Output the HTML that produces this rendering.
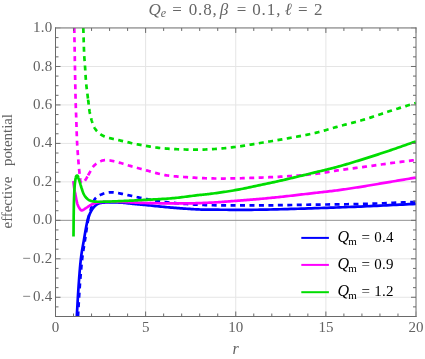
<!DOCTYPE html>
<html><head><meta charset="utf-8"><title>effective potential</title>
<style>html,body{margin:0;padding:0;background:#fff;}body{width:425px;height:359px;overflow:hidden;}svg{display:block;}text{font-family:"Liberation Serif",serif;}svg{will-change:transform;}text{filter:opacity(1);}</style></head><body>
<svg width="425" height="359" viewBox="0 0 425 359">
<rect x="0" y="0" width="425" height="359" fill="#ffffff"/>
<defs><clipPath id="pc"><rect x="55.50" y="28.00" width="360.50" height="288.50"/></clipPath></defs>
<g stroke="#e5e5e5" stroke-width="1" fill="none">
<line x1="145.62" y1="28.00" x2="145.62" y2="316.50"/>
<line x1="235.75" y1="28.00" x2="235.75" y2="316.50"/>
<line x1="325.88" y1="28.00" x2="325.88" y2="316.50"/>
<line x1="55.50" y1="66.47" x2="416.00" y2="66.47"/>
<line x1="55.50" y1="104.93" x2="416.00" y2="104.93"/>
<line x1="55.50" y1="143.40" x2="416.00" y2="143.40"/>
<line x1="55.50" y1="181.87" x2="416.00" y2="181.87"/>
<line x1="55.50" y1="258.80" x2="416.00" y2="258.80"/>
<line x1="55.50" y1="297.27" x2="416.00" y2="297.27"/>
</g>
<line x1="55.50" y1="220.33" x2="416.00" y2="220.33" stroke="#929292" stroke-width="1"/>
<g clip-path="url(#pc)" fill="none" stroke-width="2.70" stroke-linejoin="round">
<path d="M76.40 325.00 L76.42 324.46 L76.45 323.92 L76.47 323.39 L76.50 322.85 L76.52 322.31 L76.54 321.77 L76.57 321.24 L76.59 320.70 L76.61 320.16 L76.64 319.62 L76.66 319.09 L76.69 318.55 L76.71 318.01 L76.74 317.47 L76.77 316.94 L76.80 316.40 L76.91 314.41 L77.02 312.42 L77.13 310.44 L77.24 308.45 L77.36 306.46 L77.47 304.47 L77.58 302.48 L77.69 300.50 L77.81 298.51 L77.92 296.52 L78.04 294.53 L78.17 292.55 L78.29 290.56 L78.43 288.57 L78.56 286.59 L78.70 284.60 L78.82 282.92 L78.94 281.25 L79.06 279.57 L79.18 277.89 L79.31 276.22 L79.44 274.54 L79.57 272.86 L79.70 271.19 L79.84 269.51 L79.98 267.84 L80.14 266.16 L80.29 264.49 L80.46 262.81 L80.63 261.14 L80.81 259.47 L81.00 257.80 L81.14 256.68 L81.28 255.56 L81.44 254.45 L81.60 253.33 L81.77 252.22 L81.95 251.11 L82.13 249.99 L82.32 248.88 L82.52 247.77 L82.71 246.66 L82.91 245.55 L83.11 244.44 L83.31 243.33 L83.51 242.22 L83.70 241.11 L83.90 240.00 L84.12 238.75 L84.33 237.49 L84.54 236.24 L84.75 234.99 L84.96 233.73 L85.18 232.48 L85.39 231.22 L85.61 229.97 L85.83 228.72 L86.06 227.47 L86.29 226.22 L86.54 224.97 L86.79 223.73 L87.05 222.48 L87.32 221.24 L87.60 220.00 L87.71 219.55 L87.83 219.10 L87.96 218.65 L88.09 218.20 L88.24 217.76 L88.39 217.31 L88.55 216.87 L88.71 216.43 L88.88 216.00 L89.06 215.56 L89.24 215.13 L89.42 214.70 L89.61 214.27 L89.80 213.85 L90.00 213.42 L90.20 213.00 L90.37 212.64 L90.55 212.29 L90.73 211.93 L90.91 211.58 L91.09 211.23 L91.29 210.88 L91.48 210.54 L91.68 210.19 L91.89 209.85 L92.10 209.52 L92.32 209.19 L92.54 208.86 L92.77 208.54 L93.01 208.22 L93.25 207.91 L93.50 207.60 L93.72 207.34 L93.95 207.07 L94.18 206.81 L94.42 206.56 L94.67 206.30 L94.91 206.06 L95.17 205.82 L95.43 205.58 L95.69 205.35 L95.96 205.13 L96.23 204.92 L96.52 204.71 L96.80 204.52 L97.10 204.34 L97.39 204.16 L97.70 204.00 L98.03 203.84 L98.37 203.69 L98.71 203.55 L99.05 203.43 L99.40 203.31 L99.76 203.20 L100.11 203.10 L100.47 203.02 L100.83 202.94 L101.20 202.86 L101.56 202.80 L101.93 202.75 L102.30 202.70 L102.67 202.66 L103.03 202.63 L103.40 202.60 L104.44 202.54 L105.47 202.49 L106.51 202.45 L107.55 202.42 L108.58 202.40 L109.62 202.38 L110.66 202.38 L111.70 202.38 L112.74 202.38 L113.77 202.40 L114.81 202.42 L115.85 202.45 L116.89 202.48 L117.93 202.51 L118.96 202.56 L120.00 202.60 L120.90 202.65 L121.81 202.70 L122.71 202.77 L123.61 202.85 L124.51 202.93 L125.41 203.02 L126.31 203.11 L127.21 203.21 L128.11 203.31 L129.00 203.41 L129.90 203.51 L130.80 203.62 L131.70 203.72 L132.60 203.82 L133.50 203.91 L134.40 204.00 L135.06 204.06 L135.72 204.13 L136.39 204.19 L137.05 204.25 L137.71 204.31 L138.37 204.38 L139.04 204.44 L139.70 204.50 L140.36 204.56 L141.03 204.62 L141.69 204.69 L142.35 204.75 L143.01 204.81 L143.68 204.87 L144.34 204.94 L145.00 205.00 L146.73 205.17 L148.46 205.34 L150.19 205.51 L151.92 205.69 L153.65 205.87 L155.38 206.04 L157.12 206.22 L158.85 206.40 L160.58 206.57 L162.31 206.74 L164.04 206.91 L165.77 207.08 L167.50 207.24 L169.23 207.40 L170.97 207.55 L172.70 207.70 L174.26 207.83 L175.82 207.96 L177.38 208.08 L178.94 208.20 L180.51 208.32 L182.07 208.44 L183.63 208.55 L185.19 208.66 L186.76 208.77 L188.32 208.87 L189.88 208.97 L191.44 209.07 L193.01 209.16 L194.57 209.24 L196.14 209.32 L197.70 209.40 L198.80 209.45 L199.90 209.49 L201.00 209.53 L202.10 209.56 L203.20 209.59 L204.30 209.61 L205.40 209.63 L206.50 209.64 L207.60 209.66 L208.70 209.67 L209.80 209.67 L210.90 209.68 L212.00 209.69 L213.10 209.69 L214.20 209.69 L215.30 209.70 L218.09 209.71 L220.89 209.73 L223.68 209.75 L226.48 209.76 L229.27 209.78 L232.06 209.79 L234.86 209.80 L237.65 209.81 L240.44 209.82 L243.24 209.82 L246.03 209.81 L248.83 209.80 L251.62 209.79 L254.41 209.77 L257.21 209.74 L260.00 209.70 L263.44 209.64 L266.88 209.58 L270.31 209.51 L273.75 209.43 L277.19 209.35 L280.63 209.26 L284.07 209.16 L287.50 209.06 L290.94 208.96 L294.38 208.86 L297.81 208.75 L301.25 208.64 L304.69 208.53 L308.13 208.42 L311.56 208.31 L315.00 208.20 L318.06 208.10 L321.13 208.00 L324.19 207.90 L327.25 207.80 L330.31 207.69 L333.38 207.59 L336.44 207.48 L339.50 207.37 L342.56 207.25 L345.63 207.14 L348.69 207.02 L351.75 206.90 L354.81 206.78 L357.88 206.66 L360.94 206.53 L364.00 206.40 L367.24 206.26 L370.48 206.12 L373.71 205.97 L376.95 205.82 L380.19 205.66 L383.43 205.50 L386.66 205.35 L389.90 205.19 L393.14 205.02 L396.38 204.86 L399.61 204.70 L402.85 204.54 L406.09 204.38 L409.33 204.22 L412.56 204.06 L415.80 203.90" stroke="#0000ff"/>
<path d="M77.99 316.50 L78.00 316.40 L78.11 314.41 L78.22 312.42 L78.33 310.44 L78.44 308.45 L78.55 306.46 L78.66 304.47 L78.77 302.48 L78.88 300.50 L79.00 298.51 L79.12 296.52 L79.24 294.53 L79.36 292.55 L79.49 290.56 L79.62 288.57 L79.76 286.59 L79.90 284.60 L80.02 282.92 L80.15 281.25 L80.28 279.57 L80.41 277.89 L80.54 276.22 L80.68 274.54 L80.82 272.86 L80.96 271.19 L81.11 269.51 L81.27 267.84 L81.42 266.16 L81.59 264.49 L81.76 262.82 L81.93 261.14 L82.11 259.47 L82.30 257.80 L82.43 256.68 L82.57 255.57 L82.72 254.45 L82.88 253.34 L83.05 252.22 L83.21 251.11 L83.39 250.00 L83.56 248.89 L83.74 247.78 L83.93 246.67 L84.11 245.56 L84.29 244.45 L84.47 243.33 L84.65 242.22 L84.83 241.11 L85.00 240.00 L85.19 238.75 L85.38 237.50 L85.56 236.25 L85.74 234.99 L85.92 233.74 L86.10 232.49 L86.29 231.24 L86.47 229.99 L86.66 228.73 L86.84 227.48 L87.04 226.23 L87.24 224.99 L87.44 223.74 L87.65 222.49 L87.87 221.24 L88.10 220.00" stroke="#0000ff" stroke-dasharray="5.000 4.400" stroke-dashoffset="0.00"/>
<path d="M88.10 220.00 L88.10 220.00 L88.22 219.37 L88.35 218.73 L88.47 218.10 L88.61 217.47 L88.75 216.84 L88.89 216.21 L89.04 215.59 L89.19 214.96 L89.35 214.33 L89.51 213.71 L89.68 213.09 L89.85 212.47 L90.03 211.85 L90.21 211.23 L90.40 210.61 L90.60 210.00 L90.82 209.29 L91.04 208.58 L91.25 207.87 L91.46 207.15 L91.67 206.43 L91.89 205.72 L92.11 205.00 L92.34 204.29 L92.59 203.59 L92.85 202.90 L93.13 202.21 L93.43 201.54 L93.75 200.88 L94.10 200.24 L94.49 199.61 L94.90 199.00 L95.23 198.58 L95.58 198.17 L95.95 197.79 L96.34 197.43 L96.76 197.08 L97.18 196.75 L97.63 196.44 L98.09 196.14 L98.56 195.86 L99.03 195.59 L99.52 195.33 L100.01 195.08 L100.51 194.85 L101.01 194.62 L101.50 194.41 L102.00 194.20 L102.54 193.98 L103.09 193.78 L103.64 193.59 L104.19 193.41 L104.76 193.25 L105.32 193.09 L105.89 192.96 L106.46 192.83 L107.04 192.72 L107.61 192.62 L108.19 192.53 L108.77 192.46 L109.36 192.40 L109.94 192.35 L110.52 192.32 L111.10 192.30 L111.77 192.30 L112.44 192.32 L113.10 192.36 L113.77 192.42 L114.43 192.49 L115.10 192.58 L115.76 192.68 L116.42 192.79 L117.08 192.91 L117.74 193.04 L118.40 193.16 L119.06 193.30 L119.72 193.43 L120.38 193.56 L121.04 193.68 L121.70 193.80 L122.32 193.91 L122.94 194.03 L123.56 194.15 L124.18 194.27 L124.80 194.40 L125.42 194.53 L126.04 194.67 L126.66 194.80 L127.28 194.94 L127.89 195.08 L128.51 195.22 L129.13 195.36 L129.75 195.49 L130.36 195.63 L130.98 195.77 L131.60 195.90 L132.44 196.08 L133.27 196.26 L134.11 196.45 L134.95 196.64 L135.78 196.82 L136.62 197.01 L137.46 197.20 L138.29 197.38 L139.13 197.57 L139.97 197.75 L140.80 197.94 L141.64 198.12 L142.48 198.29 L143.32 198.47 L144.16 198.63 L145.00 198.80 L145.93 198.98 L146.87 199.16 L147.80 199.34 L148.74 199.52 L149.67 199.70 L150.61 199.88 L151.54 200.05 L152.48 200.22 L153.42 200.39 L154.36 200.55 L155.29 200.71 L156.23 200.86 L157.17 201.00 L158.11 201.14 L159.06 201.28 L160.00 201.40 L161.56 201.60 L163.12 201.79 L164.68 201.97 L166.24 202.15 L167.80 202.32 L169.36 202.49 L170.92 202.65 L172.48 202.81 L174.05 202.96 L175.61 203.11 L177.17 203.25 L178.74 203.39 L180.30 203.52 L181.87 203.65 L183.43 203.78 L185.00 203.90 L186.56 204.02 L188.12 204.13 L189.68 204.24 L191.24 204.35 L192.80 204.45 L194.37 204.55 L195.93 204.64 L197.49 204.72 L199.05 204.81 L200.62 204.88 L202.18 204.95 L203.74 205.02 L205.31 205.07 L206.87 205.12 L208.44 205.16 L210.00 205.20 L213.12 205.26 L216.25 205.31 L219.37 205.35 L222.50 205.38 L225.62 205.41 L228.75 205.43 L231.87 205.45 L235.00 205.46 L238.12 205.46 L241.25 205.46 L244.37 205.46 L247.50 205.45 L250.62 205.44 L253.75 205.43 L256.87 205.42 L260.00 205.40 L263.13 205.38 L266.25 205.36 L269.38 205.33 L272.50 205.29 L275.63 205.25 L278.75 205.21 L281.88 205.16 L285.00 205.11 L288.13 205.06 L291.25 205.01 L294.38 204.95 L297.50 204.90 L300.63 204.85 L303.75 204.80 L306.88 204.75 L310.00 204.70 L313.38 204.65 L316.75 204.61 L320.13 204.57 L323.50 204.53 L326.88 204.50 L330.25 204.46 L333.63 204.42 L337.00 204.38 L340.38 204.34 L343.75 204.29 L347.13 204.24 L350.50 204.19 L353.88 204.13 L357.25 204.06 L360.63 203.98 L364.00 203.90 L367.24 203.81 L370.48 203.71 L373.72 203.60 L376.95 203.49 L380.19 203.37 L383.43 203.24 L386.67 203.11 L389.90 202.98 L393.14 202.84 L396.38 202.71 L399.61 202.57 L402.85 202.43 L406.09 202.29 L409.33 202.16 L412.56 202.03 L415.80 201.90" stroke="#0000ff" stroke-dasharray="5.000 4.455" stroke-dashoffset="0.00"/>
<path d="M73.30 181.00 L73.36 181.44 L73.41 181.88 L73.46 182.31 L73.52 182.75 L73.57 183.19 L73.62 183.63 L73.67 184.07 L73.73 184.50 L73.78 184.94 L73.83 185.38 L73.89 185.82 L73.95 186.25 L74.01 186.69 L74.07 187.13 L74.13 187.56 L74.20 188.00 L74.27 188.44 L74.34 188.88 L74.42 189.32 L74.49 189.76 L74.57 190.19 L74.65 190.63 L74.73 191.07 L74.81 191.51 L74.90 191.94 L74.98 192.38 L75.07 192.82 L75.15 193.25 L75.24 193.69 L75.32 194.13 L75.41 194.56 L75.50 195.00 L75.61 195.56 L75.72 196.12 L75.82 196.68 L75.92 197.24 L76.02 197.80 L76.12 198.36 L76.23 198.92 L76.33 199.48 L76.44 200.04 L76.55 200.60 L76.67 201.15 L76.80 201.71 L76.94 202.26 L77.08 202.81 L77.23 203.36 L77.40 203.90 L77.51 204.23 L77.63 204.56 L77.75 204.89 L77.88 205.21 L78.02 205.54 L78.16 205.86 L78.31 206.17 L78.47 206.49 L78.63 206.80 L78.80 207.11 L78.97 207.41 L79.15 207.72 L79.33 208.02 L79.52 208.31 L79.71 208.61 L79.90 208.90 L79.99 209.03 L80.08 209.16 L80.17 209.29 L80.27 209.43 L80.38 209.56 L80.49 209.69 L80.60 209.81 L80.72 209.93 L80.84 210.04 L80.97 210.14 L81.09 210.22 L81.23 210.30 L81.37 210.35 L81.51 210.39 L81.65 210.40 L81.80 210.40 L82.07 210.36 L82.33 210.30 L82.58 210.21 L82.83 210.11 L83.07 210.00 L83.31 209.87 L83.54 209.72 L83.77 209.57 L84.00 209.42 L84.23 209.25 L84.46 209.09 L84.69 208.92 L84.91 208.76 L85.14 208.60 L85.37 208.44 L85.60 208.30 L85.92 208.11 L86.23 207.91 L86.54 207.71 L86.85 207.50 L87.16 207.29 L87.47 207.09 L87.78 206.88 L88.08 206.67 L88.39 206.46 L88.70 206.26 L89.01 206.05 L89.32 205.85 L89.64 205.66 L89.95 205.47 L90.28 205.28 L90.60 205.10 L90.90 204.94 L91.20 204.78 L91.51 204.62 L91.81 204.46 L92.12 204.30 L92.42 204.15 L92.73 204.00 L93.04 203.85 L93.35 203.71 L93.67 203.58 L93.98 203.45 L94.30 203.32 L94.62 203.21 L94.95 203.10 L95.27 202.99 L95.60 202.90 L95.99 202.80 L96.38 202.70 L96.78 202.62 L97.17 202.53 L97.57 202.46 L97.97 202.39 L98.37 202.33 L98.77 202.27 L99.17 202.22 L99.58 202.18 L99.98 202.14 L100.38 202.10 L100.79 202.07 L101.19 202.04 L101.60 202.02 L102.00 202.00 L103.12 201.95 L104.25 201.91 L105.37 201.87 L106.50 201.84 L107.62 201.81 L108.75 201.78 L109.87 201.76 L111.00 201.75 L112.12 201.74 L113.25 201.73 L114.37 201.73 L115.50 201.73 L116.62 201.74 L117.75 201.76 L118.88 201.78 L120.00 201.80 L121.56 201.84 L123.13 201.90 L124.69 201.97 L126.25 202.04 L127.81 202.12 L129.38 202.21 L130.94 202.30 L132.50 202.40 L134.06 202.49 L135.62 202.58 L137.19 202.67 L138.75 202.75 L140.31 202.83 L141.87 202.90 L143.44 202.95 L145.00 203.00 L147.50 203.06 L150.00 203.12 L152.50 203.17 L155.00 203.22 L157.50 203.26 L160.00 203.30 L162.50 203.34 L165.00 203.37 L167.50 203.39 L170.00 203.41 L172.50 203.42 L175.00 203.43 L177.50 203.43 L180.00 203.43 L182.50 203.42 L185.00 203.40 L186.88 203.38 L188.75 203.35 L190.63 203.32 L192.50 203.28 L194.38 203.23 L196.25 203.18 L198.13 203.12 L200.00 203.06 L201.88 202.99 L203.75 202.91 L205.63 202.84 L207.50 202.75 L209.38 202.67 L211.25 202.58 L213.13 202.49 L215.00 202.40 L216.25 202.33 L217.50 202.26 L218.75 202.18 L220.00 202.10 L221.25 202.01 L222.50 201.92 L223.75 201.82 L225.00 201.72 L226.25 201.62 L227.50 201.51 L228.75 201.41 L230.00 201.31 L231.25 201.20 L232.50 201.10 L233.75 201.00 L235.00 200.90 L236.56 200.78 L238.13 200.66 L239.69 200.54 L241.25 200.42 L242.81 200.30 L244.38 200.18 L245.94 200.06 L247.50 199.94 L249.07 199.82 L250.63 199.69 L252.19 199.57 L253.75 199.44 L255.32 199.31 L256.88 199.17 L258.44 199.04 L260.00 198.90 L261.56 198.76 L263.13 198.61 L264.69 198.47 L266.25 198.32 L267.82 198.17 L269.38 198.02 L270.94 197.86 L272.51 197.71 L274.07 197.55 L275.63 197.39 L277.19 197.23 L278.75 197.07 L280.32 196.90 L281.88 196.74 L283.44 196.57 L285.00 196.40 L286.88 196.19 L288.75 195.98 L290.63 195.77 L292.50 195.56 L294.38 195.34 L296.25 195.12 L298.13 194.90 L300.00 194.68 L301.88 194.46 L303.75 194.23 L305.63 194.01 L307.50 193.79 L309.38 193.56 L311.25 193.34 L313.13 193.12 L315.00 192.90 L316.50 192.73 L318.00 192.56 L319.50 192.39 L321.00 192.22 L322.50 192.05 L324.00 191.89 L325.51 191.72 L327.01 191.55 L328.51 191.38 L330.01 191.21 L331.51 191.04 L333.01 190.86 L334.51 190.68 L336.01 190.49 L337.50 190.30 L339.00 190.10 L340.57 189.89 L342.13 189.67 L343.70 189.45 L345.26 189.22 L346.82 188.99 L348.39 188.75 L349.95 188.52 L351.51 188.28 L353.07 188.04 L354.63 187.79 L356.20 187.54 L357.76 187.30 L359.32 187.05 L360.88 186.80 L362.44 186.55 L364.00 186.30 L365.56 186.05 L367.13 185.79 L368.69 185.54 L370.25 185.28 L371.82 185.02 L373.38 184.75 L374.94 184.49 L376.50 184.22 L378.07 183.96 L379.63 183.69 L381.19 183.43 L382.75 183.16 L384.31 182.89 L385.88 182.63 L387.44 182.36 L389.00 182.10 L390.67 181.82 L392.35 181.54 L394.02 181.26 L395.70 180.97 L397.37 180.69 L399.05 180.41 L400.72 180.13 L402.40 179.85 L404.07 179.57 L405.75 179.29 L407.42 179.01 L409.10 178.72 L410.77 178.44 L412.45 178.16 L414.12 177.88 L415.80 177.60" stroke="#ff00ff"/>
<path d="M74.25 27.95 L74.33 32.22 L74.42 36.74 L74.50 41.26 L74.58 45.78 L74.66 50.29 L74.74 54.81 L74.82 59.33 L74.90 63.85 L74.98 68.37 L75.06 72.89 L75.14 77.41 L75.23 81.93 L75.32 86.44 L75.41 90.96 L75.50 95.48 L75.60 100.00 L75.62 101.06 L75.65 102.13 L75.68 103.19 L75.72 104.25 L75.75 105.31 L75.79 106.38 L75.83 107.44 L75.87 108.50 L75.91 109.56 L75.96 110.63 L76.00 111.69 L76.04 112.75 L76.08 113.81 L76.12 114.88 L76.16 115.94 L76.20 117.00 L76.26 118.60 L76.31 120.20 L76.36 121.80 L76.41 123.40 L76.46 125.00 L76.51 126.60 L76.56 128.20 L76.61 129.80 L76.66 131.40 L76.71 133.00 L76.77 134.60 L76.83 136.20 L76.89 137.80 L76.95 139.40 L77.02 141.00 L77.10 142.60 L77.16 143.69 L77.21 144.78 L77.28 145.87 L77.34 146.95 L77.41 148.04 L77.48 149.13 L77.56 150.22 L77.64 151.30 L77.72 152.39 L77.80 153.48 L77.88 154.57 L77.96 155.65 L78.05 156.74 L78.13 157.83 L78.21 158.91 L78.30 160.00 L78.36 160.75 L78.42 161.50 L78.48 162.25 L78.55 163.00 L78.61 163.75 L78.68 164.50 L78.74 165.25 L78.81 166.00 L78.88 166.75 L78.95 167.50 L79.02 168.25 L79.10 169.00 L79.17 169.75 L79.25 170.50 L79.32 171.25 L79.40 172.00 L79.45 172.50 L79.50 173.00 L79.55 173.50 L79.60 174.01 L79.65 174.51 L79.70 175.01 L79.75 175.51 L79.81 176.01 L79.87 176.52 L79.93 177.02 L79.99 177.52 L80.06 178.01 L80.14 178.51 L80.22 179.01 L80.30 179.51 L80.40 180.00 L80.44 180.20 L80.48 180.40 L80.52 180.61 L80.57 180.81 L80.61 181.02 L80.66 181.22 L80.72 181.42 L80.78 181.62 L80.85 181.82 L80.93 182.01 L81.01 182.19 L81.11 182.37 L81.21 182.54 L81.33 182.70 L81.46 182.86 L81.60 183.00 L81.68 183.06 L81.77 183.10 L81.86 183.13 L81.96 183.14 L82.06 183.14 L82.17 183.13 L82.28 183.10 L82.39 183.07 L82.50 183.02 L82.61 182.97 L82.72 182.92 L82.82 182.86 L82.93 182.80 L83.02 182.73 L83.12 182.66 L83.20 182.60 L83.36 182.47 L83.53 182.33 L83.68 182.18 L83.83 182.03 L83.98 181.88 L84.13 181.72 L84.27 181.56 L84.40 181.39 L84.54 181.23 L84.67 181.06 L84.80 180.88 L84.92 180.71 L85.04 180.53 L85.17 180.36 L85.28 180.18 L85.40 180.00 L85.67 179.57 L85.93 179.15 L86.19 178.71 L86.45 178.28 L86.70 177.84 L86.94 177.40 L87.19 176.96 L87.43 176.52 L87.67 176.08 L87.91 175.63 L88.10 175.29" stroke="#ff00ff" stroke-dasharray="5.000 4.400" stroke-dashoffset="0.00"/>
<path d="M88.10 175.29 L88.15 175.19 L88.40 174.75 L88.64 174.31 L88.89 173.87 L89.14 173.43 L89.40 173.00 L89.67 172.54 L89.93 172.08 L90.18 171.61 L90.44 171.13 L90.69 170.66 L90.94 170.18 L91.19 169.71 L91.45 169.24 L91.71 168.78 L91.98 168.32 L92.27 167.87 L92.56 167.43 L92.87 167.00 L93.19 166.59 L93.54 166.19 L93.90 165.80 L94.30 165.41 L94.71 165.03 L95.14 164.66 L95.57 164.30 L96.01 163.95 L96.47 163.62 L96.93 163.29 L97.40 162.98 L97.88 162.68 L98.37 162.39 L98.86 162.11 L99.36 161.84 L99.86 161.59 L100.37 161.35 L100.88 161.12 L101.40 160.90 L101.76 160.76 L102.13 160.64 L102.51 160.53 L102.89 160.44 L103.27 160.36 L103.66 160.29 L104.05 160.24 L104.44 160.19 L104.84 160.16 L105.23 160.14 L105.63 160.13 L106.03 160.13 L106.42 160.14 L106.82 160.15 L107.21 160.17 L107.60 160.20 L108.24 160.26 L108.88 160.33 L109.52 160.41 L110.15 160.51 L110.79 160.62 L111.42 160.73 L112.05 160.86 L112.69 160.99 L113.31 161.13 L113.94 161.27 L114.57 161.42 L115.20 161.57 L115.83 161.73 L116.45 161.88 L117.08 162.04 L117.70 162.20 L118.49 162.40 L119.28 162.62 L120.06 162.83 L120.84 163.06 L121.62 163.29 L122.41 163.52 L123.18 163.76 L123.96 164.00 L124.74 164.24 L125.52 164.48 L126.30 164.73 L127.08 164.97 L127.86 165.21 L128.64 165.44 L129.42 165.67 L130.20 165.90 L131.12 166.16 L132.05 166.43 L132.97 166.69 L133.89 166.95 L134.82 167.21 L135.74 167.47 L136.67 167.73 L137.59 167.99 L138.51 168.24 L139.44 168.50 L140.37 168.75 L141.29 169.01 L142.22 169.26 L143.15 169.51 L144.07 169.75 L145.00 170.00 L146.25 170.33 L147.49 170.67 L148.74 171.02 L149.98 171.37 L151.22 171.72 L152.46 172.07 L153.71 172.42 L154.95 172.76 L156.20 173.10 L157.45 173.42 L158.70 173.74 L159.95 174.05 L161.21 174.34 L162.47 174.61 L163.73 174.86 L165.00 175.10 L166.25 175.31 L167.50 175.50 L168.76 175.68 L170.02 175.84 L171.28 175.99 L172.54 176.12 L173.80 176.24 L175.07 176.36 L176.33 176.46 L177.60 176.56 L178.87 176.65 L180.13 176.74 L181.40 176.83 L182.67 176.92 L183.93 177.01 L185.20 177.10 L186.75 177.21 L188.30 177.32 L189.85 177.43 L191.39 177.53 L192.94 177.63 L194.49 177.72 L196.04 177.81 L197.59 177.90 L199.14 177.98 L200.69 178.05 L202.24 178.12 L203.79 178.19 L205.35 178.25 L206.90 178.31 L208.45 178.36 L210.00 178.40 L211.56 178.44 L213.12 178.47 L214.69 178.49 L216.25 178.51 L217.81 178.52 L219.37 178.53 L220.94 178.53 L222.50 178.53 L224.06 178.53 L225.62 178.52 L227.19 178.50 L228.75 178.49 L230.31 178.47 L231.88 178.45 L233.44 178.42 L235.00 178.40 L236.56 178.37 L238.13 178.34 L239.69 178.31 L241.25 178.27 L242.81 178.22 L244.38 178.18 L245.94 178.13 L247.50 178.07 L249.06 178.02 L250.63 177.96 L252.19 177.91 L253.75 177.85 L255.31 177.79 L256.88 177.72 L258.44 177.66 L260.00 177.60 L261.56 177.54 L263.13 177.48 L264.69 177.41 L266.25 177.35 L267.82 177.29 L269.38 177.22 L270.94 177.15 L272.50 177.08 L274.07 177.01 L275.63 176.94 L277.19 176.86 L278.75 176.78 L280.32 176.69 L281.88 176.60 L283.44 176.50 L285.00 176.40 L286.90 176.27 L288.79 176.15 L290.69 176.02 L292.58 175.89 L294.48 175.75 L296.38 175.62 L298.27 175.48 L300.17 175.33 L302.06 175.18 L303.95 175.02 L305.85 174.86 L307.74 174.68 L309.63 174.50 L311.52 174.31 L313.41 174.11 L315.30 173.90 L316.79 173.72 L318.27 173.53 L319.76 173.32 L321.24 173.10 L322.72 172.87 L324.20 172.63 L325.68 172.38 L327.16 172.13 L328.64 171.88 L330.12 171.63 L331.60 171.38 L333.08 171.13 L334.55 170.89 L336.04 170.65 L337.52 170.42 L339.00 170.20 L340.56 169.98 L342.12 169.76 L343.68 169.55 L345.25 169.34 L346.81 169.13 L348.37 168.93 L349.93 168.73 L351.50 168.53 L353.06 168.33 L354.62 168.13 L356.19 167.93 L357.75 167.73 L359.31 167.52 L360.88 167.32 L362.44 167.11 L364.00 166.90 L365.56 166.69 L367.13 166.47 L368.69 166.25 L370.25 166.03 L371.81 165.81 L373.37 165.59 L374.94 165.36 L376.50 165.14 L378.06 164.92 L379.62 164.70 L381.19 164.48 L382.75 164.26 L384.31 164.04 L385.87 163.82 L387.44 163.61 L389.00 163.40 L390.67 163.18 L392.35 162.96 L394.02 162.74 L395.70 162.53 L397.37 162.31 L399.05 162.10 L400.72 161.89 L402.40 161.68 L404.07 161.47 L405.75 161.26 L407.42 161.05 L409.10 160.84 L410.77 160.63 L412.45 160.42 L414.12 160.21 L415.80 160.00" stroke="#ff00ff" stroke-dasharray="5.000 4.455" stroke-dashoffset="0.00"/>
<path d="M73.50 236.60 L73.51 235.25 L73.52 233.90 L73.53 232.55 L73.55 231.20 L73.56 229.85 L73.57 228.50 L73.58 227.15 L73.59 225.80 L73.60 224.45 L73.61 223.10 L73.62 221.75 L73.64 220.40 L73.65 219.05 L73.67 217.70 L73.68 216.35 L73.70 215.00 L73.71 214.06 L73.73 213.12 L73.74 212.19 L73.75 211.25 L73.77 210.31 L73.78 209.37 L73.80 208.44 L73.82 207.50 L73.83 206.56 L73.85 205.62 L73.87 204.69 L73.89 203.75 L73.92 202.81 L73.94 201.87 L73.97 200.94 L74.00 200.00 L74.03 199.19 L74.05 198.37 L74.08 197.56 L74.11 196.75 L74.14 195.93 L74.17 195.12 L74.20 194.31 L74.23 193.50 L74.27 192.68 L74.30 191.87 L74.35 191.06 L74.39 190.25 L74.44 189.43 L74.49 188.62 L74.54 187.81 L74.60 187.00 L74.64 186.47 L74.68 185.94 L74.72 185.42 L74.76 184.89 L74.81 184.36 L74.86 183.83 L74.91 183.31 L74.96 182.78 L75.02 182.25 L75.08 181.73 L75.15 181.20 L75.23 180.68 L75.31 180.16 L75.40 179.64 L75.50 179.12 L75.60 178.60 L75.64 178.39 L75.68 178.17 L75.72 177.94 L75.76 177.70 L75.81 177.46 L75.85 177.22 L75.91 176.98 L75.98 176.75 L76.05 176.54 L76.14 176.33 L76.24 176.15 L76.35 175.98 L76.48 175.84 L76.64 175.73 L76.81 175.65 L77.00 175.60 L77.17 175.60 L77.32 175.63 L77.46 175.71 L77.58 175.82 L77.68 175.96 L77.77 176.12 L77.85 176.31 L77.92 176.51 L77.99 176.72 L78.05 176.94 L78.10 177.17 L78.16 177.39 L78.21 177.61 L78.27 177.82 L78.33 178.02 L78.40 178.20 L78.51 178.46 L78.61 178.73 L78.72 178.99 L78.82 179.26 L78.92 179.53 L79.01 179.79 L79.10 180.06 L79.20 180.33 L79.29 180.60 L79.38 180.87 L79.47 181.14 L79.55 181.42 L79.64 181.69 L79.73 181.96 L79.81 182.23 L79.90 182.50 L80.02 182.89 L80.14 183.29 L80.26 183.68 L80.38 184.07 L80.49 184.47 L80.60 184.87 L80.72 185.26 L80.83 185.66 L80.94 186.05 L81.06 186.45 L81.17 186.84 L81.29 187.24 L81.41 187.63 L81.54 188.02 L81.67 188.41 L81.80 188.80 L81.94 189.20 L82.07 189.60 L82.21 190.01 L82.34 190.41 L82.48 190.81 L82.62 191.22 L82.76 191.62 L82.90 192.02 L83.05 192.42 L83.20 192.81 L83.36 193.21 L83.53 193.59 L83.71 193.98 L83.89 194.36 L84.09 194.73 L84.30 195.10 L84.49 195.41 L84.68 195.72 L84.88 196.03 L85.09 196.33 L85.30 196.63 L85.52 196.93 L85.74 197.22 L85.98 197.50 L86.22 197.78 L86.46 198.05 L86.72 198.32 L86.98 198.57 L87.25 198.82 L87.52 199.06 L87.81 199.28 L88.10 199.50 L88.38 199.69 L88.66 199.87 L88.95 200.04 L89.24 200.20 L89.55 200.35 L89.85 200.49 L90.17 200.62 L90.48 200.75 L90.80 200.86 L91.12 200.97 L91.45 201.06 L91.78 201.15 L92.11 201.22 L92.44 201.29 L92.77 201.35 L93.10 201.40 L93.78 201.49 L94.45 201.56 L95.13 201.62 L95.81 201.67 L96.49 201.70 L97.17 201.73 L97.85 201.75 L98.54 201.76 L99.22 201.77 L99.90 201.76 L100.59 201.76 L101.27 201.75 L101.95 201.74 L102.64 201.73 L103.32 201.71 L104.00 201.70 L105.46 201.67 L106.93 201.64 L108.39 201.60 L109.85 201.55 L111.31 201.50 L112.78 201.45 L114.24 201.39 L115.70 201.33 L117.16 201.26 L118.63 201.20 L120.09 201.13 L121.55 201.07 L123.01 201.00 L124.48 200.93 L125.94 200.87 L127.40 200.80 L128.50 200.75 L129.60 200.70 L130.70 200.65 L131.80 200.60 L132.90 200.54 L134.00 200.49 L135.10 200.44 L136.20 200.38 L137.30 200.32 L138.40 200.26 L139.50 200.21 L140.60 200.15 L141.70 200.09 L142.80 200.02 L143.90 199.96 L145.00 199.90 L146.73 199.80 L148.46 199.71 L150.20 199.62 L151.93 199.53 L153.66 199.44 L155.39 199.35 L157.13 199.25 L158.86 199.16 L160.59 199.06 L162.32 198.96 L164.05 198.85 L165.78 198.74 L167.51 198.62 L169.24 198.49 L170.97 198.35 L172.70 198.20 L174.27 198.05 L175.83 197.90 L177.40 197.73 L178.96 197.55 L180.52 197.37 L182.09 197.18 L183.65 196.98 L185.21 196.78 L186.77 196.58 L188.33 196.38 L189.89 196.17 L191.45 195.97 L193.01 195.77 L194.57 195.57 L196.14 195.38 L197.70 195.20 L198.47 195.11 L199.24 195.03 L200.01 194.95 L200.78 194.87 L201.54 194.80 L202.31 194.73 L203.08 194.65 L203.85 194.58 L204.62 194.50 L205.39 194.43 L206.16 194.35 L206.93 194.27 L207.70 194.18 L208.47 194.09 L209.23 194.00 L210.00 193.90 L211.57 193.69 L213.13 193.48 L214.70 193.27 L216.26 193.06 L217.83 192.84 L219.39 192.62 L220.96 192.40 L222.52 192.18 L224.08 191.95 L225.65 191.72 L227.21 191.48 L228.77 191.24 L230.33 190.99 L231.89 190.73 L233.44 190.47 L235.00 190.20 L236.57 189.92 L238.14 189.63 L239.70 189.33 L241.27 189.03 L242.83 188.72 L244.40 188.40 L245.96 188.08 L247.52 187.76 L249.08 187.43 L250.64 187.10 L252.20 186.76 L253.76 186.43 L255.32 186.10 L256.88 185.76 L258.44 185.43 L260.00 185.10 L261.58 184.77 L263.15 184.43 L264.73 184.10 L266.31 183.76 L267.88 183.43 L269.46 183.09 L271.04 182.75 L272.61 182.41 L274.19 182.07 L275.76 181.72 L277.34 181.38 L278.91 181.03 L280.48 180.67 L282.06 180.32 L283.63 179.96 L285.20 179.60 L287.07 179.17 L288.93 178.73 L290.80 178.29 L292.66 177.85 L294.52 177.40 L296.39 176.95 L298.25 176.50 L300.11 176.05 L301.97 175.60 L303.84 175.14 L305.70 174.69 L307.56 174.23 L309.42 173.77 L311.28 173.31 L313.14 172.86 L315.00 172.40 L316.50 172.03 L318.00 171.67 L319.51 171.30 L321.01 170.94 L322.51 170.58 L324.02 170.21 L325.52 169.85 L327.02 169.48 L328.52 169.11 L330.02 168.74 L331.52 168.36 L333.02 167.98 L334.52 167.60 L336.01 167.20 L337.51 166.81 L339.00 166.40 L340.58 165.96 L342.15 165.52 L343.73 165.07 L345.30 164.62 L346.87 164.16 L348.44 163.70 L350.01 163.23 L351.58 162.76 L353.15 162.29 L354.72 161.81 L356.28 161.33 L357.85 160.85 L359.41 160.36 L360.97 159.88 L362.54 159.39 L364.10 158.90 L365.67 158.41 L367.25 157.91 L368.82 157.41 L370.39 156.91 L371.96 156.40 L373.54 155.90 L375.10 155.39 L376.67 154.87 L378.24 154.36 L379.81 153.84 L381.38 153.32 L382.94 152.80 L384.51 152.28 L386.07 151.75 L387.64 151.23 L389.20 150.70 L390.87 150.13 L392.53 149.56 L394.20 148.99 L395.86 148.41 L397.53 147.83 L399.19 147.25 L400.85 146.67 L402.51 146.08 L404.17 145.50 L405.83 144.91 L407.49 144.32 L409.15 143.74 L410.82 143.15 L412.48 142.57 L414.14 141.98 L415.80 141.40" stroke="#00dd00"/>
<path d="M83.30 27.95 L83.30 28.00 L83.36 29.68 L83.41 31.36 L83.46 33.04 L83.51 34.73 L83.56 36.41 L83.61 38.09 L83.66 39.77 L83.72 41.45 L83.77 43.13 L83.82 44.81 L83.88 46.50 L83.93 48.18 L83.99 49.86 L84.06 51.54 L84.13 53.22 L84.20 54.90 L84.23 55.59 L84.27 56.29 L84.31 56.98 L84.36 57.68 L84.41 58.37 L84.46 59.06 L84.51 59.76 L84.57 60.45 L84.62 61.15 L84.68 61.84 L84.74 62.53 L84.79 63.23 L84.85 63.92 L84.90 64.61 L84.95 65.31 L85.00 66.00 L85.07 67.04 L85.14 68.09 L85.20 69.13 L85.26 70.18 L85.32 71.22 L85.39 72.26 L85.45 73.31 L85.51 74.35 L85.57 75.40 L85.64 76.44 L85.70 77.49 L85.77 78.53 L85.85 79.57 L85.93 80.62 L86.01 81.66 L86.10 82.70 L86.18 83.56 L86.26 84.42 L86.35 85.27 L86.45 86.13 L86.54 86.99 L86.64 87.84 L86.74 88.70 L86.85 89.56 L86.95 90.41 L87.06 91.27 L87.17 92.12 L87.28 92.98 L87.39 93.83 L87.49 94.69 L87.60 95.54 L87.70 96.40 L87.74 96.75 L87.78 97.10 L87.83 97.45 L87.87 97.80 L87.91 98.15 L87.96 98.50 L88.00 98.85 L88.05 99.20 L88.09 99.55 L88.10 99.62" stroke="#00dd00" stroke-dasharray="5.000 4.400" stroke-dashoffset="0.00"/>
<path d="M88.10 99.62 L88.14 99.90 L88.18 100.25 L88.22 100.60 L88.27 100.95 L88.31 101.30 L88.36 101.65 L88.40 102.00 L88.47 102.56 L88.54 103.13 L88.60 103.69 L88.66 104.25 L88.73 104.81 L88.79 105.38 L88.86 105.94 L88.92 106.50 L88.99 107.07 L89.05 107.63 L89.12 108.19 L89.19 108.75 L89.26 109.32 L89.34 109.88 L89.42 110.44 L89.50 111.00 L89.55 111.31 L89.60 111.63 L89.65 111.94 L89.71 112.26 L89.77 112.57 L89.82 112.88 L89.89 113.20 L89.95 113.51 L90.01 113.82 L90.08 114.13 L90.15 114.45 L90.22 114.76 L90.29 115.07 L90.36 115.38 L90.43 115.69 L90.50 116.00 L90.57 116.30 L90.64 116.60 L90.72 116.91 L90.79 117.21 L90.87 117.51 L90.95 117.81 L91.03 118.11 L91.11 118.41 L91.19 118.71 L91.27 119.01 L91.36 119.31 L91.44 119.61 L91.53 119.91 L91.62 120.21 L91.71 120.50 L91.80 120.80 L91.88 121.07 L91.97 121.33 L92.05 121.60 L92.14 121.86 L92.23 122.13 L92.32 122.39 L92.41 122.66 L92.50 122.92 L92.59 123.18 L92.69 123.44 L92.79 123.70 L92.88 123.97 L92.98 124.23 L93.09 124.48 L93.19 124.74 L93.30 125.00 L93.41 125.26 L93.52 125.53 L93.63 125.79 L93.74 126.05 L93.86 126.32 L93.97 126.58 L94.09 126.84 L94.20 127.10 L94.33 127.36 L94.45 127.62 L94.58 127.87 L94.71 128.12 L94.85 128.37 L95.00 128.62 L95.14 128.86 L95.30 129.10 L95.47 129.34 L95.64 129.58 L95.81 129.81 L95.99 130.05 L96.17 130.28 L96.36 130.50 L96.55 130.72 L96.74 130.94 L96.94 131.16 L97.14 131.38 L97.34 131.59 L97.55 131.80 L97.76 132.00 L97.97 132.20 L98.18 132.40 L98.40 132.60 L98.62 132.80 L98.85 133.00 L99.08 133.19 L99.32 133.38 L99.55 133.56 L99.79 133.75 L100.03 133.93 L100.28 134.10 L100.52 134.28 L100.77 134.45 L101.02 134.61 L101.27 134.78 L101.53 134.94 L101.78 135.10 L102.04 135.25 L102.30 135.40 L102.56 135.54 L102.81 135.68 L103.07 135.82 L103.34 135.95 L103.60 136.08 L103.87 136.21 L104.13 136.33 L104.40 136.45 L104.67 136.57 L104.95 136.68 L105.22 136.79 L105.49 136.90 L105.77 137.00 L106.05 137.11 L106.32 137.20 L106.60 137.30 L106.89 137.40 L107.19 137.49 L107.49 137.58 L107.78 137.66 L108.08 137.74 L108.38 137.81 L108.68 137.89 L108.98 137.96 L109.29 138.03 L109.59 138.10 L109.89 138.16 L110.19 138.23 L110.49 138.30 L110.80 138.36 L111.10 138.43 L111.40 138.50 L111.90 138.62 L112.40 138.73 L112.90 138.85 L113.40 138.96 L113.90 139.07 L114.40 139.19 L114.90 139.30 L115.40 139.41 L115.90 139.52 L116.40 139.63 L116.90 139.74 L117.40 139.85 L117.90 139.97 L118.40 140.08 L118.90 140.19 L119.40 140.30 L120.54 140.56 L121.69 140.82 L122.83 141.09 L123.97 141.35 L125.11 141.62 L126.25 141.89 L127.39 142.16 L128.53 142.43 L129.68 142.69 L130.82 142.95 L131.96 143.21 L133.11 143.46 L134.25 143.71 L135.40 143.95 L136.55 144.18 L137.70 144.40 L139.09 144.66 L140.48 144.92 L141.86 145.18 L143.25 145.44 L144.64 145.69 L146.03 145.94 L147.42 146.19 L148.82 146.42 L150.21 146.66 L151.60 146.88 L153.00 147.09 L154.40 147.30 L155.80 147.49 L157.20 147.67 L158.60 147.84 L160.00 148.00 L161.57 148.16 L163.14 148.31 L164.71 148.45 L166.28 148.58 L167.86 148.70 L169.43 148.81 L171.01 148.91 L172.58 149.00 L174.16 149.09 L175.74 149.17 L177.31 149.24 L178.89 149.30 L180.47 149.36 L182.05 149.41 L183.62 149.46 L185.20 149.50 L186.75 149.54 L188.30 149.57 L189.85 149.60 L191.40 149.62 L192.95 149.63 L194.50 149.64 L196.05 149.64 L197.60 149.64 L199.15 149.62 L200.70 149.60 L202.25 149.57 L203.80 149.54 L205.35 149.49 L206.90 149.44 L208.45 149.37 L210.00 149.30 L211.57 149.22 L213.13 149.12 L214.70 149.02 L216.26 148.91 L217.83 148.79 L219.39 148.66 L220.96 148.53 L222.52 148.38 L224.08 148.23 L225.64 148.08 L227.21 147.91 L228.77 147.74 L230.33 147.56 L231.88 147.38 L233.44 147.19 L235.00 147.00 L236.58 146.80 L238.15 146.58 L239.72 146.36 L241.29 146.12 L242.86 145.88 L244.43 145.63 L246.00 145.38 L247.57 145.12 L249.13 144.85 L250.70 144.59 L252.27 144.32 L253.83 144.05 L255.40 143.79 L256.97 143.52 L258.53 143.26 L260.10 143.00 L261.67 142.74 L263.24 142.49 L264.81 142.23 L266.38 141.98 L267.95 141.73 L269.52 141.47 L271.09 141.21 L272.66 140.96 L274.23 140.70 L275.80 140.44 L277.37 140.17 L278.93 139.91 L280.50 139.63 L282.07 139.36 L283.63 139.08 L285.20 138.80 L287.07 138.46 L288.93 138.12 L290.80 137.79 L292.67 137.45 L294.54 137.11 L296.41 136.77 L298.27 136.43 L300.14 136.08 L302.00 135.72 L303.86 135.36 L305.73 134.99 L307.59 134.62 L309.44 134.23 L311.30 133.83 L313.15 133.42 L315.00 133.00 L316.51 132.64 L318.03 132.26 L319.53 131.87 L321.04 131.47 L322.54 131.05 L324.04 130.63 L325.53 130.20 L327.03 129.77 L328.52 129.33 L330.02 128.89 L331.51 128.45 L333.01 128.01 L334.50 127.57 L336.00 127.14 L337.50 126.72 L339.00 126.30 L340.56 125.88 L342.12 125.46 L343.69 125.05 L345.25 124.64 L346.82 124.24 L348.39 123.83 L349.95 123.43 L351.52 123.02 L353.09 122.62 L354.65 122.21 L356.21 121.79 L357.78 121.37 L359.34 120.94 L360.89 120.50 L362.45 120.06 L364.00 119.60 L365.59 119.12 L367.17 118.63 L368.75 118.13 L370.33 117.61 L371.90 117.10 L373.48 116.57 L375.05 116.04 L376.62 115.51 L378.19 114.98 L379.76 114.44 L381.33 113.91 L382.90 113.38 L384.47 112.85 L386.05 112.33 L387.62 111.81 L389.20 111.30 L390.86 110.77 L392.52 110.24 L394.18 109.72 L395.84 109.20 L397.50 108.68 L399.17 108.16 L400.83 107.64 L402.49 107.12 L404.16 106.61 L405.82 106.09 L407.48 105.58 L409.15 105.07 L410.81 104.55 L412.47 104.03 L414.14 103.52 L415.80 103.00" stroke="#00dd00" stroke-dasharray="5.000 4.455" stroke-dashoffset="0.00"/>
</g>
<g stroke="#6a6a6a" stroke-width="1" fill="none" stroke-linecap="square">
<line x1="55.50" y1="27.95" x2="55.50" y2="316.50"/>
<line x1="55.50" y1="316.50" x2="416.00" y2="316.50"/>
<line x1="416.00" y1="27.95" x2="416.00" y2="316.50"/>
<line x1="55.50" y1="27.95" x2="416.00" y2="27.95"/>
</g>
<g stroke="#6a6a6a" stroke-width="1" fill="none">
<line x1="55.50" y1="316.50" x2="55.50" y2="311.50" opacity="0.45"/>
<line x1="55.50" y1="27.95" x2="55.50" y2="32.95" opacity="0.45"/>
<line x1="73.53" y1="316.50" x2="73.53" y2="313.50"/>
<line x1="73.53" y1="27.95" x2="73.53" y2="30.95"/>
<line x1="91.55" y1="316.50" x2="91.55" y2="313.50"/>
<line x1="91.55" y1="27.95" x2="91.55" y2="30.95"/>
<line x1="109.58" y1="316.50" x2="109.58" y2="313.50"/>
<line x1="109.58" y1="27.95" x2="109.58" y2="30.95"/>
<line x1="127.60" y1="316.50" x2="127.60" y2="313.50"/>
<line x1="127.60" y1="27.95" x2="127.60" y2="30.95"/>
<line x1="145.62" y1="316.50" x2="145.62" y2="311.50"/>
<line x1="145.62" y1="27.95" x2="145.62" y2="32.95"/>
<line x1="163.65" y1="316.50" x2="163.65" y2="313.50"/>
<line x1="163.65" y1="27.95" x2="163.65" y2="30.95"/>
<line x1="181.68" y1="316.50" x2="181.68" y2="313.50"/>
<line x1="181.68" y1="27.95" x2="181.68" y2="30.95"/>
<line x1="199.70" y1="316.50" x2="199.70" y2="313.50"/>
<line x1="199.70" y1="27.95" x2="199.70" y2="30.95"/>
<line x1="217.72" y1="316.50" x2="217.72" y2="313.50"/>
<line x1="217.72" y1="27.95" x2="217.72" y2="30.95"/>
<line x1="235.75" y1="316.50" x2="235.75" y2="311.50"/>
<line x1="235.75" y1="27.95" x2="235.75" y2="32.95"/>
<line x1="253.78" y1="316.50" x2="253.78" y2="313.50"/>
<line x1="253.78" y1="27.95" x2="253.78" y2="30.95"/>
<line x1="271.80" y1="316.50" x2="271.80" y2="313.50"/>
<line x1="271.80" y1="27.95" x2="271.80" y2="30.95"/>
<line x1="289.82" y1="316.50" x2="289.82" y2="313.50"/>
<line x1="289.82" y1="27.95" x2="289.82" y2="30.95"/>
<line x1="307.85" y1="316.50" x2="307.85" y2="313.50"/>
<line x1="307.85" y1="27.95" x2="307.85" y2="30.95"/>
<line x1="325.88" y1="316.50" x2="325.88" y2="311.50"/>
<line x1="325.88" y1="27.95" x2="325.88" y2="32.95"/>
<line x1="343.90" y1="316.50" x2="343.90" y2="313.50"/>
<line x1="343.90" y1="27.95" x2="343.90" y2="30.95"/>
<line x1="361.93" y1="316.50" x2="361.93" y2="313.50"/>
<line x1="361.93" y1="27.95" x2="361.93" y2="30.95"/>
<line x1="379.95" y1="316.50" x2="379.95" y2="313.50"/>
<line x1="379.95" y1="27.95" x2="379.95" y2="30.95"/>
<line x1="397.98" y1="316.50" x2="397.98" y2="313.50"/>
<line x1="397.98" y1="27.95" x2="397.98" y2="30.95"/>
<line x1="416.00" y1="316.50" x2="416.00" y2="311.50" opacity="0.45"/>
<line x1="416.00" y1="27.95" x2="416.00" y2="32.95" opacity="0.45"/>
<line x1="55.50" y1="27.95" x2="60.50" y2="27.95" opacity="0.45"/>
<line x1="416.00" y1="27.95" x2="411.00" y2="27.95" opacity="0.45"/>
<line x1="55.50" y1="37.62" x2="58.50" y2="37.62"/>
<line x1="416.00" y1="37.62" x2="413.00" y2="37.62"/>
<line x1="55.50" y1="47.23" x2="58.50" y2="47.23"/>
<line x1="416.00" y1="47.23" x2="413.00" y2="47.23"/>
<line x1="55.50" y1="56.85" x2="58.50" y2="56.85"/>
<line x1="416.00" y1="56.85" x2="413.00" y2="56.85"/>
<line x1="55.50" y1="66.47" x2="60.50" y2="66.47"/>
<line x1="416.00" y1="66.47" x2="411.00" y2="66.47"/>
<line x1="55.50" y1="76.08" x2="58.50" y2="76.08"/>
<line x1="416.00" y1="76.08" x2="413.00" y2="76.08"/>
<line x1="55.50" y1="85.70" x2="58.50" y2="85.70"/>
<line x1="416.00" y1="85.70" x2="413.00" y2="85.70"/>
<line x1="55.50" y1="95.32" x2="58.50" y2="95.32"/>
<line x1="416.00" y1="95.32" x2="413.00" y2="95.32"/>
<line x1="55.50" y1="104.93" x2="60.50" y2="104.93"/>
<line x1="416.00" y1="104.93" x2="411.00" y2="104.93"/>
<line x1="55.50" y1="114.55" x2="58.50" y2="114.55"/>
<line x1="416.00" y1="114.55" x2="413.00" y2="114.55"/>
<line x1="55.50" y1="124.17" x2="58.50" y2="124.17"/>
<line x1="416.00" y1="124.17" x2="413.00" y2="124.17"/>
<line x1="55.50" y1="133.78" x2="58.50" y2="133.78"/>
<line x1="416.00" y1="133.78" x2="413.00" y2="133.78"/>
<line x1="55.50" y1="143.40" x2="60.50" y2="143.40"/>
<line x1="416.00" y1="143.40" x2="411.00" y2="143.40"/>
<line x1="55.50" y1="153.02" x2="58.50" y2="153.02"/>
<line x1="416.00" y1="153.02" x2="413.00" y2="153.02"/>
<line x1="55.50" y1="162.63" x2="58.50" y2="162.63"/>
<line x1="416.00" y1="162.63" x2="413.00" y2="162.63"/>
<line x1="55.50" y1="172.25" x2="58.50" y2="172.25"/>
<line x1="416.00" y1="172.25" x2="413.00" y2="172.25"/>
<line x1="55.50" y1="181.87" x2="60.50" y2="181.87"/>
<line x1="416.00" y1="181.87" x2="411.00" y2="181.87"/>
<line x1="55.50" y1="191.48" x2="58.50" y2="191.48"/>
<line x1="416.00" y1="191.48" x2="413.00" y2="191.48"/>
<line x1="55.50" y1="201.10" x2="58.50" y2="201.10"/>
<line x1="416.00" y1="201.10" x2="413.00" y2="201.10"/>
<line x1="55.50" y1="210.72" x2="58.50" y2="210.72"/>
<line x1="416.00" y1="210.72" x2="413.00" y2="210.72"/>
<line x1="55.50" y1="220.33" x2="60.50" y2="220.33"/>
<line x1="416.00" y1="220.33" x2="411.00" y2="220.33"/>
<line x1="55.50" y1="229.95" x2="58.50" y2="229.95"/>
<line x1="416.00" y1="229.95" x2="413.00" y2="229.95"/>
<line x1="55.50" y1="239.57" x2="58.50" y2="239.57"/>
<line x1="416.00" y1="239.57" x2="413.00" y2="239.57"/>
<line x1="55.50" y1="249.18" x2="58.50" y2="249.18"/>
<line x1="416.00" y1="249.18" x2="413.00" y2="249.18"/>
<line x1="55.50" y1="258.80" x2="60.50" y2="258.80"/>
<line x1="416.00" y1="258.80" x2="411.00" y2="258.80"/>
<line x1="55.50" y1="268.42" x2="58.50" y2="268.42"/>
<line x1="416.00" y1="268.42" x2="413.00" y2="268.42"/>
<line x1="55.50" y1="278.03" x2="58.50" y2="278.03"/>
<line x1="416.00" y1="278.03" x2="413.00" y2="278.03"/>
<line x1="55.50" y1="287.65" x2="58.50" y2="287.65"/>
<line x1="416.00" y1="287.65" x2="413.00" y2="287.65"/>
<line x1="55.50" y1="297.27" x2="60.50" y2="297.27"/>
<line x1="416.00" y1="297.27" x2="411.00" y2="297.27"/>
<line x1="55.50" y1="306.88" x2="58.50" y2="306.88"/>
<line x1="416.00" y1="306.88" x2="413.00" y2="306.88"/>
<line x1="55.50" y1="316.50" x2="58.50" y2="316.50" opacity="0.45"/>
<line x1="416.00" y1="316.50" x2="413.00" y2="316.50" opacity="0.45"/>
</g>
<g class="t" fill="#626262" font-size="15px">
<text x="55.60" y="331.8" text-anchor="middle">0</text>
<text x="145.72" y="331.8" text-anchor="middle">5</text>
<text x="235.85" y="331.8" text-anchor="middle">10</text>
<text x="325.98" y="331.8" text-anchor="middle">15</text>
<text x="416.10" y="331.8" text-anchor="middle">20</text>
<text x="52.6" y="32.05" text-anchor="end" letter-spacing="0.3">1.0</text>
<text x="52.6" y="70.52" text-anchor="end" letter-spacing="0.3">0.8</text>
<text x="52.6" y="108.98" text-anchor="end" letter-spacing="0.3">0.6</text>
<text x="52.6" y="147.45" text-anchor="end" letter-spacing="0.3">0.4</text>
<text x="52.6" y="185.92" text-anchor="end" letter-spacing="0.3">0.2</text>
<text x="52.6" y="224.38" text-anchor="end" letter-spacing="0.3">0.0</text>
<text x="52.6" y="262.85" text-anchor="end" letter-spacing="0.3">0.2</text>
<text x="30.6" y="262.85" text-anchor="end">−</text>
<text x="52.6" y="301.32" text-anchor="end" letter-spacing="0.3">0.4</text>
<text x="30.6" y="301.32" text-anchor="end">−</text>
</g>
<text x="235.6" y="354" text-anchor="middle" font-size="16px" font-style="italic" fill="#626262">r</text>
<text transform="translate(12.2,202.60) rotate(-90)" text-anchor="middle" font-size="15px" fill="#626262" letter-spacing="-0.05">effective</text>
<text transform="translate(12.2,140.05) rotate(-90)" text-anchor="middle" font-size="15px" fill="#626262" letter-spacing="-0.05">potential</text>
<g fill="#666666" font-size="17px">
<text x="148.4" y="14.6" font-style="italic">Q</text>
<text x="160.8" y="17.3" font-style="italic" font-size="12px">e</text>
<text x="172.3" y="14.6">=</text>
<text x="188.8" y="14.6" letter-spacing="0.8">0.8,</text>
<text x="219.8" y="14.6" font-style="italic">β</text>
<text x="236.7" y="14.6">=</text>
<text x="252.2" y="14.6" letter-spacing="0.9">0.1,</text>
<text x="284.8" y="14.6" font-style="italic">ℓ</text>
<text x="297.9" y="14.6">=</text>
<text x="314.0" y="14.6">2</text>
</g>
<g stroke-width="2" fill="none">
<line x1="301.3" y1="237.90" x2="328.9" y2="237.90" stroke="#0000ff"/>
<line x1="301.3" y1="264.90" x2="328.9" y2="264.90" stroke="#ff00ff"/>
<line x1="301.3" y1="292.20" x2="328.9" y2="292.20" stroke="#00dd00"/>
</g>
<g fill="#000000" font-size="15px">
<text x="337.6" y="242.00" font-style="italic" font-size="16px">Q</text>
<text x="348.3" y="244.50" font-size="11px">m</text>
<text x="361.6" y="242.00">=</text>
<text x="374.2" y="242.00" letter-spacing="0.3">0.4</text>
<text x="337.6" y="269.30" font-style="italic" font-size="16px">Q</text>
<text x="348.3" y="271.80" font-size="11px">m</text>
<text x="361.6" y="269.30">=</text>
<text x="374.2" y="269.30" letter-spacing="0.3">0.9</text>
<text x="337.6" y="296.15" font-style="italic" font-size="16px">Q</text>
<text x="348.3" y="298.65" font-size="11px">m</text>
<text x="361.6" y="296.15">=</text>
<text x="374.2" y="296.15" letter-spacing="0.3">1.2</text>
</g>
</svg></body></html>
